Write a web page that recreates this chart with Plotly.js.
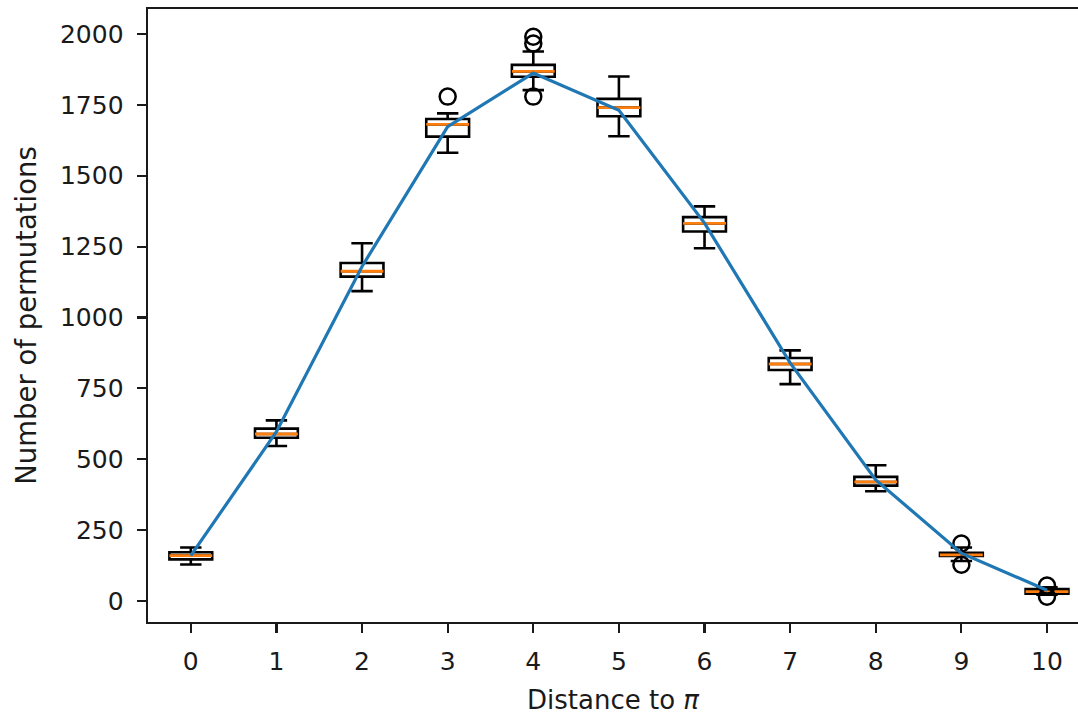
<!DOCTYPE html>
<html>
<head>
<meta charset="utf-8">
<script src="https://cdn.plot.ly/plotly-3.0.1.min.js"></script>
<style>
html,body{margin:0;padding:0;background:#fff;}
#chart{width:1078px;height:715px;}
</style>
</head>
<body>
<div id="chart"></div>
<script>
// Distance to pi (box positions)
var distance = [0, 1, 2, 3, 4, 5, 6, 7, 8, 9, 10];
// Box statistics
var lowerWhisker = [129, 547, 1093, 1581, 1802, 1639, 1244, 765, 387, 141, 22];
var q1 = [147, 576, 1144, 1638, 1849, 1710, 1303, 815, 407, 159, 26];
var median = [160, 589, 1163, 1681, 1868, 1740, 1332, 836, 420, 163, 33];
var q3 = [172, 608, 1192, 1700, 1891, 1771, 1354, 857, 438, 170, 42];
var upperWhisker = [189, 637, 1262, 1720, 1938, 1850, 1392, 884, 479, 189, 48];
// Outliers
var flierX = [3, 4, 4, 4, 9, 9, 10, 10];
var flierY = [1779, 1990, 1966, 1779, 203, 128, 55, 15];
// Line through the boxes
var lineY = [160, 597, 1180, 1673, 1862, 1731, 1333, 840, 427, 169, 38];
// Tick values
var yTicks = [0, 250, 500, 750, 1000, 1250, 1500, 1750, 2000];

var boxWidth = 0.5;
var medX = [], medY = [];
for (var i = 0; i < distance.length; i++) {
  medX.push(distance[i] - boxWidth / 2, distance[i] + boxWidth / 2, null);
  medY.push(median[i], median[i], null);
}

var font = "DejaVu Sans, sans-serif";

var traces = [
  {
    type: 'box',
    x: distance,
    q1: q1,
    median: median,
    q3: q3,
    lowerfence: lowerWhisker,
    upperfence: upperWhisker,
    width: boxWidth,
    whiskerwidth: 0.5,
    boxpoints: false,
    fillcolor: 'rgba(0,0,0,0)',
    line: {color: '#000000', width: 2.6},
    hoverinfo: 'skip',
    showlegend: false
  },
  {
    type: 'scatter',
    mode: 'lines',
    x: medX,
    y: medY,
    connectgaps: false,
    line: {color: '#ff7f0e', width: 2.8},
    hoverinfo: 'skip',
    showlegend: false
  },
  {
    type: 'scatter',
    mode: 'markers',
    x: flierX,
    y: flierY,
    marker: {symbol: 'circle-open', size: 16, color: '#000000', line: {width: 2.5, color: '#000000'}},
    hoverinfo: 'skip',
    showlegend: false
  },
  {
    type: 'scatter',
    mode: 'lines',
    x: distance,
    y: lineY,
    line: {color: '#1f77b4', width: 3.2},
    hoverinfo: 'skip',
    showlegend: false
  }
];

var layout = {
  width: 1078,
  height: 715,
  margin: {l: 148, r: 0, t: 9, b: 93, pad: 0},
  paper_bgcolor: '#ffffff',
  plot_bgcolor: '#ffffff',
  showlegend: false,
  font: {family: font, color: '#000000', size: 25},
  xaxis: {
    range: [-0.5, 10.362],
    tickmode: 'array',
    tickvals: distance,
    ticktext: distance.map(String),
    ticks: 'outside',
    ticklen: 9,
    tickwidth: 2.2,
    tickcolor: '#1a1a1a',
    ticklabelstandoff: 7,
    showgrid: false,
    zeroline: false,
    showline: true,
    linecolor: '#1a1a1a',
    linewidth: 2.4,
    mirror: true,
    tickfont: {family: font, size: 25, color: '#1a1a1a'},
    title: {text: 'Distance to <i>π</i>', font: {family: font, size: 26, color: '#1a1a1a'}, standoff: 18},
    automargin: false
  },
  yaxis: {
    range: [-74, 2088],
    tickmode: 'array',
    tickvals: yTicks,
    ticktext: yTicks.map(String),
    ticks: 'outside',
    ticklen: 9,
    tickwidth: 2.2,
    tickcolor: '#1a1a1a',
    ticklabelstandoff: 8,
    showgrid: false,
    zeroline: false,
    showline: true,
    linecolor: '#1a1a1a',
    linewidth: 2.4,
    mirror: false,
    tickfont: {family: font, size: 25, color: '#1a1a1a'},
    title: {text: 'Number of permutations', font: {family: font, size: 27.5, color: '#1a1a1a'}, standoff: 16},
    automargin: false
  },
  boxmode: 'overlay'
};

Plotly.newPlot('chart', traces, layout, {displayModeBar: false, staticPlot: true});
</script>
</body>
</html>
